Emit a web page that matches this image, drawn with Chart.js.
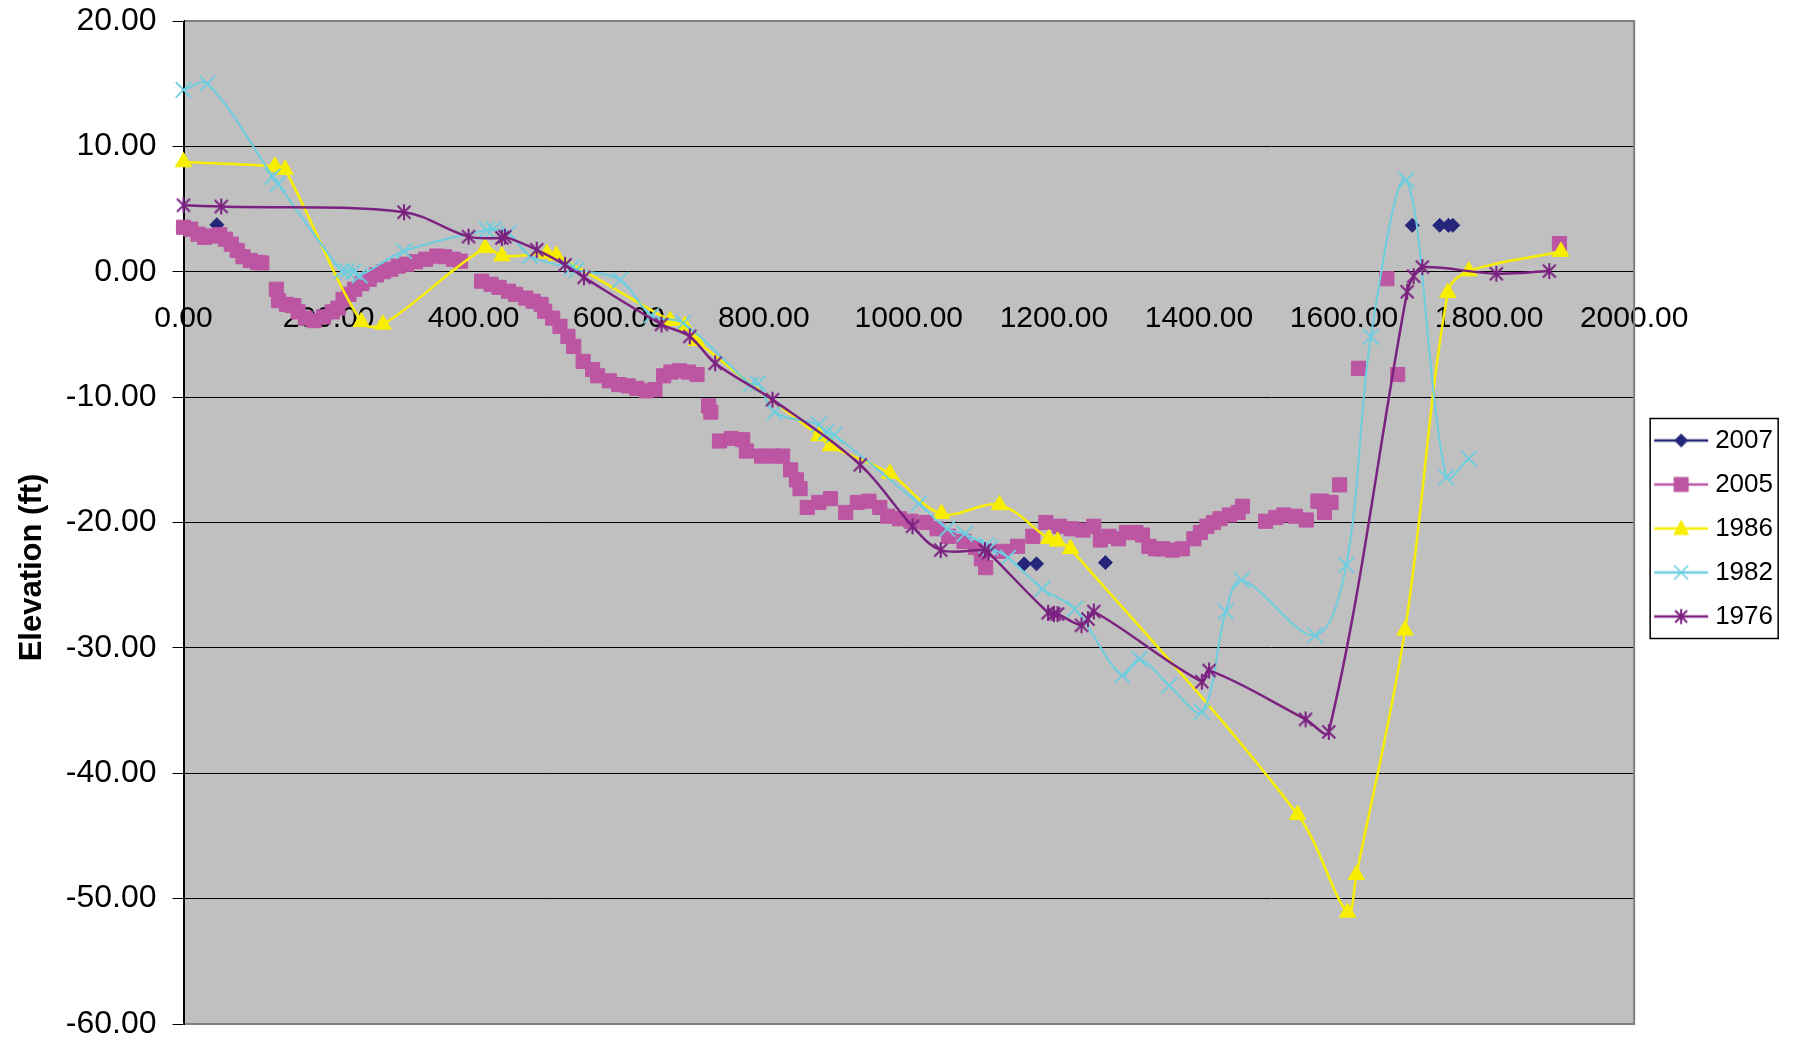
<!DOCTYPE html>
<html>
<head>
<meta charset="utf-8">
<script src="https://cdn.jsdelivr.net/npm/chart.js@4/dist/chart.umd.min.js"></script>
<style>
html,body{margin:0;padding:0;background:#fff;}
#wrap{width:1795px;height:1043px;position:relative;}
</style>
</head>
<body>
<div id="wrap"><canvas id="c" width="1795" height="1043"></canvas></div>
<script>
const FONT = "'Liberation Sans', Arial, Helvetica, sans-serif";

// ---- tick settings ----
const xTickMin = 0, xTickMax = 2000, xTickStep = 200;
const yTickMin = -60, yTickMax = 20, yTickStep = 10;
const yAxisTitle = 'Elevation (ft)';
const seriesNames = ['2007', '2005', '1986', '1982', '1976'];

// ---- 2007 ----
const x2007 = [46, 1159, 1176, 1271, 1694, 1732, 1744, 1750];
const y2007 = [3.75, -23.3, -23.3, -23.2, 3.7, 3.7, 3.7, 3.7];

// ---- 2005 ----
const x2005 = [0,10,20,29,40,50,58,66,74,82,92,102,108,
  128,131,142,152,158,168,180,193,205,213,220,228,236,246,256,266,276,286,296,308,320,334,349,360,372,382,
  411,424,435,448,458,472,482,493,498,509,519,530,538,551,564,
  571,587,600,613,625,638,650,662,672,684,696,708,
  724,727,739,755,771,776,797,813,826,837,845,850,860,876,892,913,929,945,960,971,987,1003,1024,1039,1055,1076,1092,1100,1106,
  1129,1150,1171,1189,1208,1224,1240,1255,1264,1276,1289,1300,1313,1322,1331,1340,1350,1363,1377,1393,1402,1411,1420,1429,1442,1454,1460,
  1492,1506,1517,1533,1548,1564,1569,1573,1582,1594,
  1620,1659,1674,1897];
const y2005 = [3.55,3.4,3.0,2.75,2.85,2.95,2.6,2.2,1.7,1.2,0.9,0.75,0.7,
  -1.4,-2.3,-2.6,-2.7,-3.2,-3.7,-3.9,-3.6,-3.2,-2.9,-2.2,-1.8,-1.4,-0.95,-0.6,-0.25,0.0,0.2,0.45,0.6,0.8,1.0,1.25,1.2,1.0,0.85,
  -0.75,-1.0,-1.25,-1.55,-1.8,-2.1,-2.35,-2.6,-3.15,-3.7,-4.35,-5.15,-5.95,-7.15,-7.8,
  -8.3,-8.7,-9.0,-9.1,-9.3,-9.5,-9.4,-8.3,-8.0,-7.9,-8.0,-8.2,
  -10.7,-11.2,-13.5,-13.3,-13.4,-14.3,-14.7,-14.7,-14.7,-15.8,-16.6,-17.3,-18.8,-18.4,-18.1,-19.2,-18.4,-18.3,-18.8,-19.5,-19.7,-19.9,-20.0,-20.5,-21.1,-21.5,-22.0,-22.9,-23.6,
  -22.3,-21.9,-21.1,-20.0,-20.3,-20.5,-20.6,-20.3,-21.4,-21.1,-21.3,-20.8,-20.8,-21.0,-21.9,-22.1,-22.1,-22.2,-22.1,-21.3,-20.8,-20.3,-20.0,-19.7,-19.4,-19.2,-18.7,
  -19.9,-19.6,-19.4,-19.5,-19.8,-18.3,-18.3,-19.2,-18.4,-17.0,
  -7.7,-0.56,-8.2,2.25];

// ---- 1986 ----
const x1986 = [0,126,140,245,275,416,439,501,514,671,691,707,876,892,974,1045,1125,1193,1205,1223,1536,1605,1617,1684,1743,1772,1899];
const y1986 = [8.75,8.4,8.15,-4.0,-4.2,1.9,1.25,1.45,1.3,-3.9,-4.3,-5.5,-13.1,-13.9,-16.1,-19.3,-18.6,-21.3,-21.5,-22.1,-43.3,-51.1,-48.1,-28.6,-1.67,0.05,1.6];

// ---- 1982 ----
const x1982 = [0,33,123,130,218,225,234,243,304,418,427,448,478,535,542,602,645,689,782,792,815,876,886,897,1014,1053,1077,1107,1112,1137,1184,1229,1294,1318,1359,1404,1437,1459,1560,1603,1637,1686,1741,1772];
const y1982 = [14.5,15.0,7.6,7.0,0.05,0.05,0.0,-0.3,1.65,3.35,3.4,3.1,1.25,0.3,0.15,-0.65,-3.5,-4.1,-9.0,-8.9,-11.2,-12.2,-12.8,-13.0,-18.5,-20.5,-20.9,-21.8,-22.0,-22.8,-25.3,-26.9,-32.2,-30.9,-33.0,-35.1,-27.1,-24.6,-29.0,-23.4,-5.2,7.3,-16.4,-14.9];

// ---- 1976 ----
const x1976 = [0,52,304,393,439,443,487,526,552,659,698,733,812,933,1005,1044,1105,1110,1192,1200,1205,1238,1247,1255,1404,1414,1547,1579,1687,1696,1708,1810,1883];
const y1976 = [5.3,5.2,4.75,2.8,2.7,2.8,1.75,0.55,-0.45,-4.2,-5.16,-7.3,-10.2,-15.4,-20.3,-22.2,-22.2,-22.4,-27.2,-27.3,-27.3,-28.2,-27.7,-27.1,-32.7,-31.8,-35.7,-36.7,-1.6,-0.35,0.37,-0.16,0.05];

// ---- colours ----
const C2007 = '#25257A';
const C2005 = '#BC55A2';
const C1986 = '#F7EE00';
const C1982 = '#6CCEE0';
const C1976 = '#7B2180';

const pts = (xs, ys) => xs.map((x, i) => ({x: x, y: ys[i]}));

// custom asterisk marker (X plus vertical bar)
function asteriskCanvas(color) {
  const c = document.createElement('canvas');
  c.width = 18; c.height = 18;
  const g = c.getContext('2d');
  g.strokeStyle = color; g.lineWidth = 2;
  g.beginPath();
  g.moveTo(2.5, 2.5); g.lineTo(15.5, 15.5);
  g.moveTo(15.5, 2.5); g.lineTo(2.5, 15.5);
  g.moveTo(9, 1); g.lineTo(9, 17);
  g.stroke();
  return c;
}

// legend icons: line + marker
function legendIcon(color, kind) {
  const c = document.createElement('canvas');
  c.width = 64; c.height = 24;
  const g = c.getContext('2d');
  g.strokeStyle = color; g.fillStyle = color; g.lineWidth = 2.5;
  g.beginPath(); g.moveTo(9, 12); g.lineTo(63, 12); g.stroke();
  const mx = 36, my = 12;
  g.lineWidth = 2;
  g.beginPath();
  if (kind === 'diamond') {
    g.moveTo(mx - 7, my); g.lineTo(mx, my - 7); g.lineTo(mx + 7, my); g.lineTo(mx, my + 7); g.closePath(); g.fill();
  } else if (kind === 'square') {
    g.fillRect(mx - 7.5, my - 7.5, 15, 15);
  } else if (kind === 'triangle') {
    g.moveTo(mx, my - 9); g.lineTo(mx + 8, my + 6.5); g.lineTo(mx - 8, my + 6.5); g.closePath(); g.fill();
  } else if (kind === 'x') {
    g.lineWidth = 1.6;
    g.moveTo(mx - 7, my - 7); g.lineTo(mx + 7, my + 7); g.moveTo(mx + 7, my - 7); g.lineTo(mx - 7, my + 7); g.stroke();
  } else if (kind === 'asterisk') {
    g.moveTo(mx - 6, my - 6); g.lineTo(mx + 6, my + 6); g.moveTo(mx + 6, my - 6); g.lineTo(mx - 6, my + 6);
    g.moveTo(mx, my - 7.5); g.lineTo(mx, my + 7.5); g.stroke();
  }
  return c;
}

const icons = [
  legendIcon(C2007, 'diamond'),
  legendIcon(C2005, 'square'),
  legendIcon(C1986, 'triangle'),
  legendIcon(C1982, 'x'),
  legendIcon(C1976, 'asterisk')
];

const decor = {
  id: 'decor',
  beforeDraw(chart) {
    const {ctx, chartArea: a} = chart;
    ctx.save();
    ctx.fillStyle = '#fff';
    ctx.fillRect(0, 0, chart.width, chart.height);
    ctx.fillStyle = '#C0C0C0';
    ctx.fillRect(a.left, a.top, a.right - a.left, a.bottom - a.top);
    ctx.restore();
  },
  beforeDatasetsDraw(chart) {
    const {ctx, chartArea: a} = chart;
    ctx.save();
    ctx.strokeStyle = '#808080';
    ctx.lineWidth = 2;
    ctx.beginPath();
    ctx.moveTo(a.left, a.top); ctx.lineTo(a.right, a.top);
    ctx.lineTo(a.right, a.bottom); ctx.lineTo(a.left, a.bottom);
    ctx.stroke();
    ctx.strokeStyle = '#000';
    ctx.lineWidth = 1;
    ctx.beginPath();
    ctx.moveTo(Math.round(a.left) + 0.5, a.top - 1);
    ctx.lineTo(Math.round(a.left) + 0.5, a.bottom + 1);
    ctx.stroke();
    ctx.restore();
  },
  afterDraw(chart) {
    const ctx = chart.ctx;
    ctx.save();
    // y-axis title
    ctx.translate(32.5, 567.5);
    ctx.rotate(-Math.PI / 2);
    ctx.font = 'bold 31px ' + FONT;
    ctx.fillStyle = '#000';
    ctx.textAlign = 'center';
    ctx.textBaseline = 'middle';
    ctx.fillText(yAxisTitle, 0, 0);
    ctx.restore();
    // legend frame
    const lg = chart.legend;
    const hb = lg.legendHitBoxes;
    if (hb && hb.length) {
      const top = hb[0].top - 9;
      const bottom = hb[hb.length - 1].top + 35;
      ctx.save();
      ctx.strokeStyle = '#000';
      ctx.lineWidth = 1.5;
      ctx.strokeRect(lg.left + 16, top, 128, bottom - top);
      ctx.restore();
    }
  }
};

new Chart(document.getElementById('c'), {
  type: 'scatter',
  data: {
    datasets: [
      {label: seriesNames[0], data: pts(x2007, y2007), showLine: false, pointStyle: 'rectRot', pointRadius: 7,
        backgroundColor: C2007, borderColor: C2007, borderWidth: 1, order: 5, clip: false},
      {label: seriesNames[1], data: pts(x2005, y2005), showLine: false, pointStyle: 'rect', pointRadius: 10,
        backgroundColor: C2005, borderColor: C2005, borderWidth: 1, order: 4, clip: false},
      {label: seriesNames[2], data: pts(x1986, y1986), showLine: true, tension: 0.35, borderColor: C1986, borderWidth: 2.5,
        pointStyle: 'triangle', pointRadius: 9.5, pointBackgroundColor: C1986, pointBorderColor: C1986, pointBorderWidth: 1,
        backgroundColor: C1986, order: 3, clip: false},
      {label: seriesNames[3], data: pts(x1982, y1982), showLine: true, tension: 0.35, borderColor: C1982, borderWidth: 2,
        pointStyle: 'crossRot', pointRadius: 11, pointBorderColor: C1982, pointBorderWidth: 1.8,
        backgroundColor: C1982, order: 2, clip: false},
      {label: seriesNames[4], data: pts(x1976, y1976), showLine: true, tension: 0.35, borderColor: C1976, borderWidth: 2.5,
        pointStyle: asteriskCanvas(C1976), pointRadius: 8, pointBorderColor: C1976,
        backgroundColor: C1976, order: 1, clip: false}
    ]
  },
  options: {
    responsive: false,
    animation: false,
    events: [],
    devicePixelRatio: 1,
    layout: {padding: {top: 21, bottom: 19, left: 0, right: 12}},
    scales: {
      x: {
        type: 'linear',
        min: xTickMin, max: xTickMax,
        position: {y: 0},
        ticks: {
          stepSize: xTickStep,
          callback: v => Number(v).toFixed(2),
          font: {family: FONT, size: 30},
          color: '#000',
          padding: 29,
          maxRotation: 0,
          autoSkip: false
        },
        grid: {display: false, drawTicks: false},
        border: {display: true, color: '#000', width: 1}
      },
      y: {
        type: 'linear',
        min: yTickMin, max: yTickMax,
        ticks: {
          stepSize: yTickStep,
          callback: v => Number(v).toFixed(2),
          font: {family: FONT, size: 32},
          color: '#000',
          padding: 16
        },
        grid: {color: '#000', lineWidth: 1, tickLength: 11, tickColor: '#000'},
        border: {display: true, color: '#000', width: 1},
        afterFit: s => { s.width = 183.5; s.paddingTop = 18; s.paddingBottom = 18; }
      }
    },
    plugins: {
      tooltip: {enabled: false},
      legend: {
        position: 'right',
        align: 'center',
        title: {display: true, text: ' ', font: {size: 10}, padding: 0},
        labels: {
          font: {family: FONT, size: 26},
          color: '#000',
          padding: 18,
          usePointStyle: true,
          pointStyleWidth: 50,
          generateLabels: chart => chart.data.datasets.map((ds, i) => ({
            text: ds.label,
            pointStyle: icons[i],
            fillStyle: ds.borderColor,
            strokeStyle: ds.borderColor,
            lineWidth: 0,
            hidden: false,
            datasetIndex: i,
            fontColor: '#000'
          }))
        }
      }
    }
  },
  plugins: [decor]
});
</script>
</body>
</html>
